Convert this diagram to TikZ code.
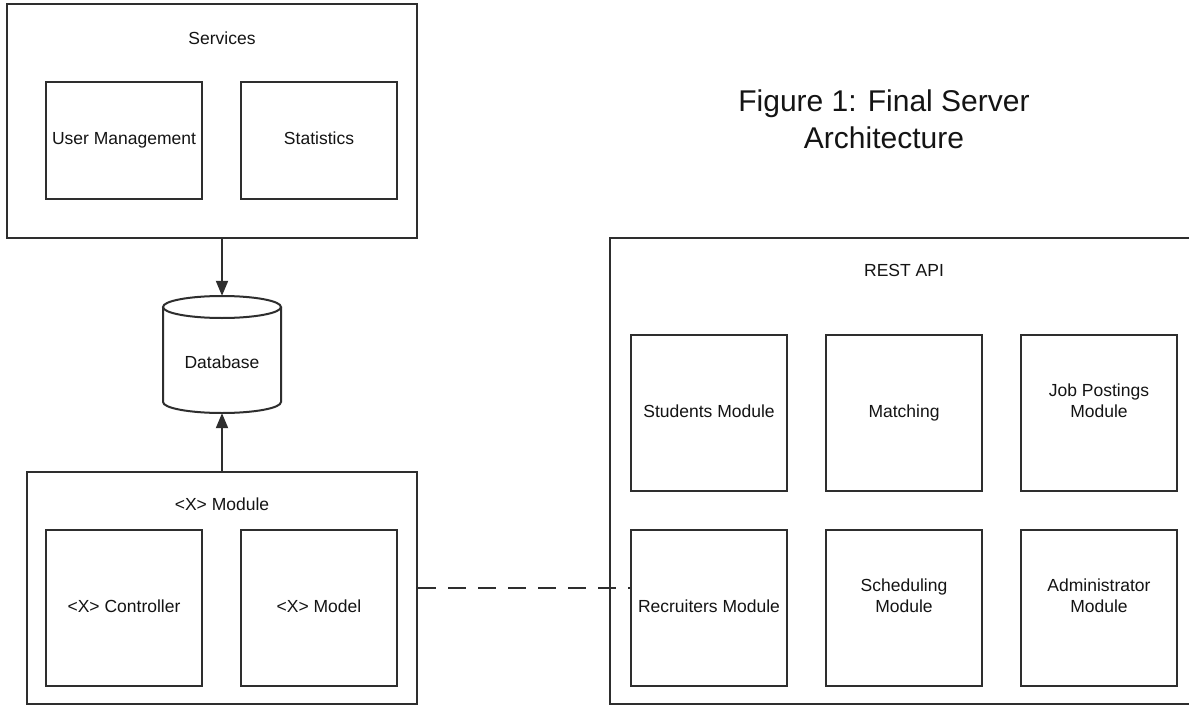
\documentclass[tikz,border=0pt]{standalone}
\usepackage{fontspec}
\setmainfont{Liberation Sans}
\usetikzlibrary{arrows.meta}

\definecolor{edge}{HTML}{2E2E2E}
\definecolor{ink}{HTML}{141414}

\begin{document}
\begin{tikzpicture}[x=1pt,y=-1pt,
    every node/.style={text=ink, inner sep=0pt},
    frame/.style={draw=edge, line width=2pt, fill=white},
    part/.style={frame, minimum width=156pt, minimum height=156pt,
      align=center, font=\fontsize{17.5}{21}\selectfont,
      text height=12.6pt, text depth=3.6pt},
    caption/.style={font=\fontsize{17.5}{21}\selectfont,
      text height=12.6pt, text depth=3.6pt},
    flow/.style={draw=edge, line width=2pt,
      -{Triangle[width=12pt,length=15pt]}},
    link/.style={draw=edge, line width=1.6pt, dash pattern=on 18pt off 12pt}]

  \useasboundingbox[fill=white] (0,0) rectangle (1189,706);

  % Services container
  \node[frame, minimum width=410pt, minimum height=234pt] (svc) at (212,121) {};
  \node[caption] (svclbl) at (222,40) {Services};
  \node[part, minimum height=117pt] (usr) at (124,140.5) {User Management};
  \node[part, minimum height=117pt] (stat) at (319,140.5) {Statistics};

  % Database (cylinder drawn on the node's bounds)
  \node[minimum width=118pt, minimum height=117pt] (db) at (222,354.5) {};
  \fill[white] (163,307) -- (163,402)
    arc[start angle=180, end angle=360, x radius=59pt, y radius=11pt]
    -- (281,307) -- cycle;
  \draw[edge, line width=2pt] (163,307) -- (163,402)
    arc[start angle=180, end angle=360, x radius=59pt, y radius=11pt]
    -- (281,307);
  \draw[edge, line width=2pt, fill=white] (222,307)
    ellipse[x radius=59pt, y radius=11pt];
  \node[caption] (dblbl) at (222,364) {Database};

  % <X> Module container
  \node[frame, minimum width=390pt, minimum height=232pt] (xmod) at (222,588) {};
  \node[caption] (xmodlbl) at (222,506) {<X> Module};
  \node[part] (ctrl) at (124,608) {<X> Controller};
  \node[part] (model) at (319,608) {<X> Model};

  % REST API container (runs past the right edge)
  \node[frame, minimum width=587pt, minimum height=466pt] (rest) at (903.5,471) {};
  \node[caption] (restlbl) at (904,272) {REST API};
  \node[part] (stud) at (709,413) {Students Module};
  \node[part] (match) at (904,413) {Matching};
  \node[part] (jobs) at (1099,413) {Job Postings\\Module};
  \node[part] (recr) at (709,608) {Recruiters Module};
  \node[part] (sched) at (904,608) {Scheduling\\Module};
  \node[part] (admin) at (1099,608) {Administrator\\Module};

  % Title
  \node[align=center, font=\fontsize{30}{37}\selectfont] (title) at (884,119.5)
    {Figure 1: Final Server\\Architecture};

  % Connectors
  \draw[flow] (svc.south -| db.north) -- (db.north);
  \draw[flow] (xmod.north) -- (db.south);
  \draw[link] (xmod.east) -- (xmod.east -| recr.west);
\end{tikzpicture}
\end{document}
